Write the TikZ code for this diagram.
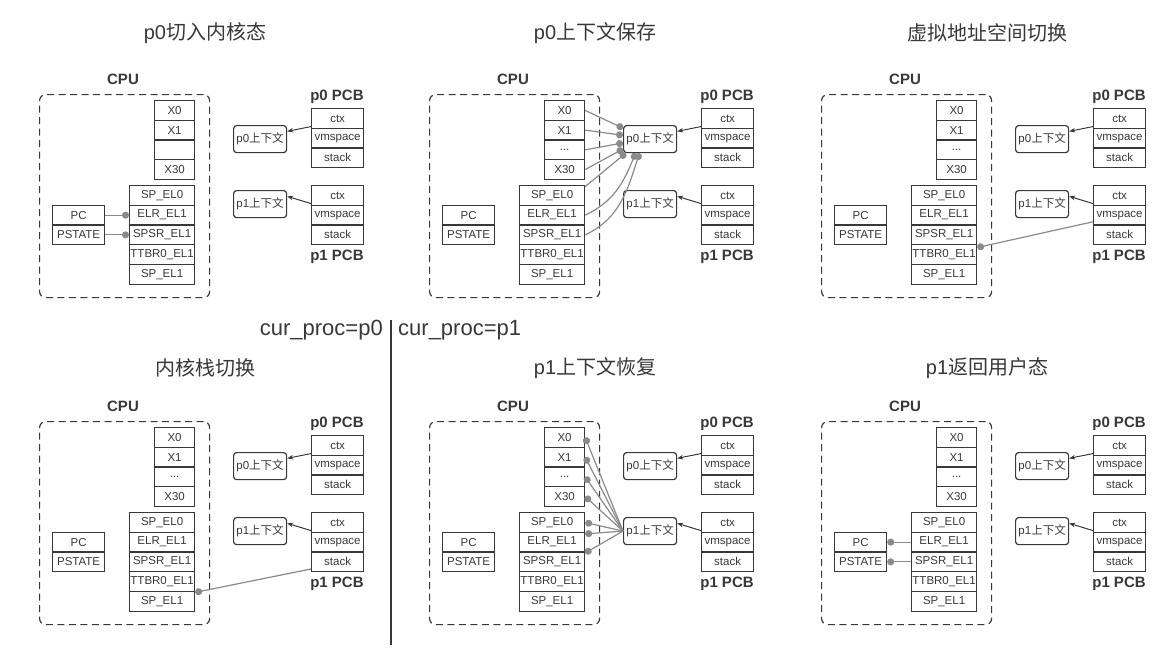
\documentclass[tikz,border=0pt]{standalone}
\usepackage{fontspec}
\setmainfont{Liberation Sans}
\newfontfamily\cjk{Noto Sans CJK SC}
\usetikzlibrary{arrows.meta}
\definecolor{ink}{HTML}{383838}
\definecolor{wirec}{HTML}{8A8A8A}
\tikzset{
 reg/.style={draw=ink, line width=1.2pt, minimum height=19.7pt, inner sep=0pt, anchor=north west, font=\fontsize{11.5}{11.5}\selectfont, text=ink},
 xreg/.style={reg, minimum width=40pt},
 lreg/.style={reg, minimum width=65pt},
 pcreg/.style={reg, minimum width=52pt},
 pcb/.style={reg, minimum width=52pt},
 ctxbox/.style={draw=ink, line width=1.2pt, rounded corners=3pt, minimum width=53pt, minimum height=27pt, inner sep=0pt, anchor=north west, font=\fontsize{11.5}{11.5}\selectfont, text=ink},
 cpubox/.style={draw=ink, line width=1.2pt, dash pattern=on 7pt off 4.5pt, rounded corners=6pt, minimum width=170pt, minimum height=203pt, inner sep=0pt, anchor=north west},
 lbl/.style={font=\fontsize{15}{15}\selectfont\bfseries, text=ink},
 ttl/.style={font=\fontsize{20}{20}\selectfont, text=ink},
 wire/.style={draw=wirec, line width=1.2pt},
 dotend/.style={wire, -{Circle[length=7pt, fill=wirec]}},
 dotstart/.style={wire, {Circle[length=7pt, fill=wirec]}-},
 ptr/.style={draw=ink, line width=1pt, -{Stealth[length=6pt, width=4.5pt]}},
 curlbl/.style={font=\fontsize{22}{22}\selectfont, text=ink, inner sep=0pt},
}
\newcommand\drawpanel[6]{%
\begin{scope}[shift={(#1,#2)}]
\node[ttl] (#3ttl) at (205,#6) {#4};
\node[lbl] (#3cpul) at (123,79) {CPU};
\node[cpubox] (#3cpu) at (39,94) {};
\node[xreg] (#3x0) at (154,100) {X0};
\node[xreg] (#3x1) at (154,119.7) {X1};
\node[xreg] (#3x2) at (154,139.4) {#5};
\node[xreg] (#3x30) at (154,159.1) {X30};
\node[lreg] (#3sp0) at (129,185) {SP\_EL0};
\node[lreg] (#3elr) at (129,204.7) {ELR\_EL1};
\node[lreg] (#3spsr) at (129,224.4) {SPSR\_EL1};
\node[lreg] (#3ttbr) at (129,244.1) {TTBR0\_EL1};
\node[lreg] (#3sp1) at (129,263.8) {SP\_EL1};
\node[pcreg] (#3pc) at (52,204.7) {PC};
\node[pcreg] (#3pst) at (52,224.4) {PSTATE};
\node[lbl] (#3p0l) at (337,97) {p0 PCB};
\node[pcb] (#3p0ctx) at (311,108) {ctx};
\node[pcb] (#3p0vm) at (311,127.7) {vmspace};
\node[pcb] (#3p0st) at (311,147.4) {stack};
\node[lbl] (#3p1l) at (337,257) {p1 PCB};
\node[pcb] (#3p1ctx) at (311,185) {ctx};
\node[pcb] (#3p1vm) at (311,204.7) {vmspace};
\node[pcb] (#3p1st) at (311,224.4) {stack};
\node[ctxbox] (#3p0box) at (233,125) {p0{\cjk 上下文}};
\node[ctxbox] (#3p1box) at (233,190) {p1{\cjk 上下文}};
\draw[ptr] (#3p0ctx.197) -- (#3p0box.16);
\draw[ptr] (#3p1ctx.197) -- (#3p1box.16);
\end{scope}}
\begin{document}
\begin{tikzpicture}[x=1pt,y=-1pt]
\useasboundingbox (0,0) rectangle (1176,654);
\drawpanel{0}{0}{A}{p0{\cjk 切入内核态}}{}{33}
\drawpanel{390}{0}{B}{p0{\cjk 上下文保存}}{...}{33}
\drawpanel{782}{0}{C}{{\cjk 虚拟地址空间切换}}{...}{33}
\drawpanel{0}{327}{D}{{\cjk 内核栈切换}}{...}{41}
\drawpanel{390}{327}{E}{p1{\cjk 上下文恢复}}{...}{41}
\drawpanel{782}{327}{F}{p1{\cjk 返回用户态}}{...}{41}
% panel 1
\draw[dotend] (Apc) -- (Aelr);
\draw[dotend] (Apst) -- (Aspsr);
% panel 2
\draw[dotend] (Bx0.east) -- (Bp0box.158);
\draw[dotend] (Bx1.east) -- (Bp0box.172);
\draw[dotend] (Bx2.east) -- (Bp0box.188);
\draw[dotend] (Bx30.east) -- (Bp0box.200);
\draw[dotend] (Bsp0.15) -- (Bp0box.210);
\draw[dotend] (Belr.east) to[out=25,in=248] (Bp0box.224);
\draw[dotend] (Bspsr.east) to[out=25,in=252] (Bp0box.233);
% panel 3
\draw[dotend] (Cp1vm.194) -- (Cttbr.12);
% panel 4
\draw[dotend] (Dp1st.195) -- (Dsp1.15);
% panel 5
\draw[dotstart] (Ex0.east) -- (Ep1box.west);
\draw[dotstart] (Ex1.east) -- (Ep1box.west);
\draw[dotstart] (Ex2.east) -- (Ep1box.west);
\draw[dotstart] (Ex30.east) -- (Ep1box.west);
\draw[dotstart] (Esp0.east) -- (Ep1box.west);
\draw[dotstart] (Eelr.14) -- (Ep1box.west);
\draw[dotstart] (Espsr.15) -- (Ep1box.west);
% panel 6
\draw[dotend] (Felr) -- (Fpc);
\draw[dotend] (Fspsr) -- (Fpst);
% divider
\node[curlbl, anchor=east] (cur0) at (383,330) {cur\_proc=p0};
\node[curlbl, anchor=west] (cur1) at (398,330) {cur\_proc=p1};
\coordinate (divtop) at (391,320);
\coordinate (divbot) at (391,645);
\draw[ink, line width=1.1pt] (divtop) -- (divbot);
\end{tikzpicture}
\end{document}
